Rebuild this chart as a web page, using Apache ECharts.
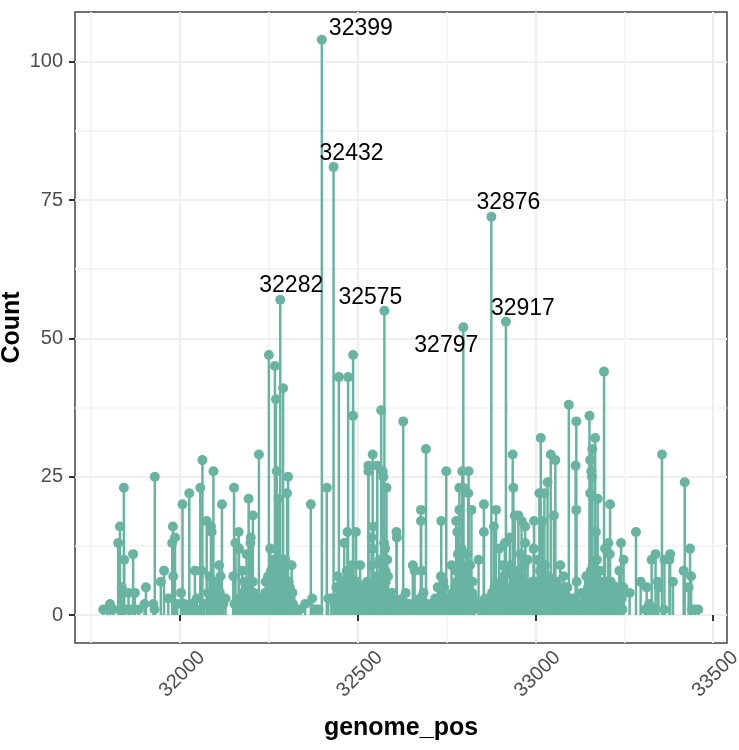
<!DOCTYPE html>
<html><head><meta charset="utf-8">
<style>html,body{margin:0;padding:0;background:#fff}#c{width:739px;height:750px}</style>
<script src="https://cdn.jsdelivr.net/npm/echarts@6/dist/echarts.min.js"></script>
</head><body><div id="c"></div>
<script>
const genomePos = [
31784,31795,31803,31812,31826,31831,31836,31842,31843,31845,
31855,31859,31868,31873,31883,31900,31904,31925,31928,31929,
31946,31955,31967,31978,31980,31981,31986,31992,32003,32007,
32012,32018,32026,32030,32037,32042,32047,32051,32057,32060,
32063,32068,32075,32079,32083,32087,32089,32092,32094,32098,
32103,32107,32112,32114,32118,32122,32128,32150,32152,32153,
32156,32160,32165,32166,32172,32178,32183,32187,32190,32193,
32198,32199,32201,32202,32205,32205,32212,32222,32222,32228,
32236,32240,32241,32246,32250,32254,32258,32262,32264,32267,
32270,32272,32277,32280,32282,32286,32290,32293,32296,32301,
32304,32309,32314,32318,32322,32330,32338,32352,32368,32372,
32380,32390,32399,32413,32417,32426,32432,32437,32444,32447,
32452,32457,32462,32466,32471,32473,32477,32482,32487,32487,
32490,32495,32499,32503,32507,32512,32517,32522,32526,32530,
32530,32533,32539,32542,32542,32544,32548,32552,32555,32558,
32562,32566,32568,32570,32572,32574,32575,32578,32581,32583,
32586,32590,32597,32600,32609,32610,32615,32622,32628,32635,
32640,32645,32655,32660,32665,32672,32678,32678,32680,32685,
32688,32692,32696,32704,32712,32718,32725,32730,32734,32735,
32741,32745,32749,32752,32758,32764,32767,32772,32777,32780,
32786,32786,32790,32794,32797,32797,32800,32804,32808,32811,
32812,32814,32817,32820,32823,32826,32828,32840,32845,32850,
32855,32855,32860,32866,32875,32876,32880,32883,32889,32892,
32898,32903,32908,32914,32917,32922,32928,32932,32936,32938,
32942,32945,32952,32956,32961,32965,32971,32971,32975,32978,
32985,32990,32995,32996,33000,33007,33011,33015,33018,33021,
33025,33027,33030,33034,33038,33043,33047,33052,33056,33060,
33065,33070,33075,33079,33084,33090,33094,33098,33103,33113,
33115,33115,33116,33120,33125,33130,33135,33143,33148,33152,
33154,33154,33157,33159,33160,33163,33168,33170,33173,33175,
33180,33185,33190,33193,33196,33200,33205,33209,33210,33215,
33220,33229,33236,33241,33245,33248,33265,33283,33296,33309,
33313,33320,33327,33333,33338,33344,33346,33356,33362,33363,
33377,33379,33387,33417,33420,33431,33435,33438,33440,33449,
33458];
const counts = [
1,1,2,1,13,16,5,23,10,1,
4,1,11,4,1,2,5,2,1,25,
6,8,3,13,16,7,14,2,4,20,
2,1,22,2,1,8,3,1,23,8,
28,2,17,4,7,16,15,2,26,5,
1,3,4,7,20,2,3,7,23,2,
13,1,15,12,1,4,2,11,5,21,
13,14,1,3,18,6,1,29,3,1,
1,4,6,2,47,12,5,10,2,45,
39,26,21,6,57,10,41,3,10,22,
25,5,9,2,1,1,1,2,20,3,
1,1,104,23,3,3,81,3,7,43,
5,2,13,1,15,43,7,3,36,47,
5,15,2,1,9,3,1,2,6,27,
26,3,14,29,12,16,6,2,27,4,
10,37,1,26,25,13,55,8,23,10,
3,1,4,2,15,14,1,2,35,4,
1,2,9,8,1,2,19,17,8,4,
1,30,2,1,1,3,5,1,7,17,
6,2,26,1,3,9,4,2,17,15,
23,19,4,26,52,23,1,8,3,22,
26,6,2,19,6,2,1,10,1,1,
20,15,2,1,3,72,1,16,19,4,
12,1,9,13,53,2,14,5,29,23,
18,3,18,7,17,2,16,13,1,10,
4,2,12,17,1,10,22,32,3,17,
22,9,2,24,1,29,4,18,28,6,
3,9,2,7,5,5,38,1,3,27,
35,19,6,2,1,4,1,7,5,36,
28,22,26,25,30,3,32,15,10,21,
5,6,2,44,12,6,13,11,20,4,
1,5,8,13,1,10,4,15,6,1,
5,2,10,1,11,6,5,29,1,10,
10,11,6,8,24,5,12,7,1,1,
1];
const densePos = [
32100,32105,32110,32116,32168,32175,32181,32195,32208,32215,
32225,32232,32238,32244,32248,32252,32256,32260,32266,32269,
32274,32276,32279,32284,32288,32292,32295,32298,32300,32306,
32311,32316,32435,32440,32450,32455,32460,32464,32469,32475,
32480,32484,32492,32497,32501,32506,32510,32515,32520,32524,
32528,32536,32540,32546,32550,32554,32556,32560,32564,32571,
32573,32577,32579,32582,32585,32588,32593,32598,32604,32618,
32626,32631,32637,32650,32668,32675,32683,32700,32708,32715,
32722,32727,32732,32738,32743,32747,32755,32761,32769,32774,
32776,32778,32782,32784,32788,32792,32795,32799,32802,32806,
32810,32813,32816,32819,32822,32825,32848,32858,32863,32870,
32878,32885,32887,32895,32900,32905,32910,32912,32920,32925,
32930,32934,32940,32948,32950,32954,32958,32963,32967,32969,
32973,32980,32988,32992,32998,33003,33005,33009,33013,33017,
33019,33023,33028,33032,33036,33040,33045,33050,33054,33058,
33062,33067,33072,33077,33081,33087,33092,33101,33107,33110,
33118,33128,33133,33138,33141,33146,33150,33156,33158,33161,
33165,33167,33171,33177,33182,33187,33195,33198,33202,33207,
33212,33217,33223,33226,33232,33238,33243,33247];
const denseCounts = [
2,6,9,3,3,8,6,3,4,2,
2,3,2,4,7,3,8,3,6,9,
4,8,3,7,4,8,5,9,3,6,
3,4,2,5,3,6,4,5,8,4,
6,9,4,6,3,4,5,2,3,4,
3,5,9,3,5,7,3,6,4,9,
5,12,6,4,7,3,2,2,3,2,
3,2,2,1,2,3,2,1,2,2,
2,3,2,4,5,3,2,2,3,5,
8,6,11,8,6,12,9,7,5,11,
6,4,9,3,4,3,2,3,2,3,
4,5,2,5,3,6,4,7,8,3,
9,4,6,3,8,5,11,6,4,9,
5,4,3,6,5,3,6,5,8,6,
4,5,4,6,7,3,5,6,4,3,
5,4,3,4,3,2,3,2,2,3,
1,2,2,3,2,3,6,8,5,9,
7,4,5,3,8,4,3,5,2,4,
6,3,2,5,3,2,3,5];
const labelNames = ['32399','32432','32876','32282','32575','32917','32797'];
const labelPos = [32399,32432,32876,32282,32575,32917,32797];
const labelCounts = [104,81,72,57,55,53,52];
const xTicks = [32000,32500,33000,33500];
const xMinor = [31750,32250,32750,33250];
const yTicks = [0,25,50,75,100];
const yMinor = [12.5,37.5,62.5,87.5];

const labelOffsets = [[39,-11],[18,-13],[17,-14],[11,-14],[-14,-13],[17,-13],[-17,18]];
const pts = genomePos.map((x,i)=>[x,counts[i]]).concat(densePos.map((x,i)=>[x,denseCounts[i]]));
const color = '#69b3a2', font = 'Liberation Sans, Arial, sans-serif';
const xMin = 31704.5, xMax = 33539, yMin = -5.06, yMax = 109;
const hidden = {axisLine:{show:false},axisLabel:{show:false}};

const chart = echarts.init(document.getElementById('c'),null,{renderer:'canvas'});
chart.setOption({
  animation:false,
  backgroundColor:'#fff',
  grid:{left:75,right:12,top:12,bottom:107,show:true,borderColor:'#444',borderWidth:1.5,backgroundColor:'#fff',outerBoundsMode:'none'},
  xAxis:[{
    type:'value',min:xMin,max:xMax,position:'bottom',
    name:'genome_pos',nameLocation:'middle',nameGap:73,nameMoveOverlap:false,
    nameTextStyle:{fontFamily:font,fontWeight:'bold',fontSize:25,color:'#000'},
    axisLine:{show:false},
    axisTick:{show:true,length:6,customValues:xTicks,lineStyle:{color:'#333',width:2}},
    axisLabel:{customValues:xTicks,formatter:v=>String(v),rotate:45,margin:29,lineHeight:6,align:'center',verticalAlign:'top',fontFamily:font,fontSize:20,color:'#4d4d4d'},
    splitLine:{show:true,lineStyle:{color:'#eeeeee',width:2}}
  },{
    type:'value',min:xMin,max:xMax,position:'top',...hidden,
    axisTick:{show:false,customValues:xMinor},
    splitLine:{show:true,lineStyle:{color:'#f2f2f2',width:1.5}}
  }],
  yAxis:[{
    type:'value',min:yMin,max:yMax,position:'left',
    name:'Count',nameLocation:'middle',nameGap:50,nameMoveOverlap:false,
    nameTextStyle:{fontFamily:font,fontWeight:'bold',fontSize:25,color:'#000'},
    axisLine:{show:false},
    axisTick:{show:true,length:6,customValues:yTicks,lineStyle:{color:'#333',width:2}},
    axisLabel:{customValues:yTicks,margin:12,fontFamily:font,fontSize:20,color:'#4d4d4d'},
    splitLine:{show:true,lineStyle:{color:'#eeeeee',width:2}}
  },{
    type:'value',min:yMin,max:yMax,position:'right',...hidden,
    axisTick:{show:false,customValues:yMinor},
    splitLine:{show:true,lineStyle:{color:'#f2f2f2',width:1.5}}
  }],
  series:[{
    type:'bar',data:pts,barWidth:2.5,itemStyle:{color:color},silent:true,z:2
  },{
    type:'scatter',data:pts,symbol:'circle',symbolSize:10,itemStyle:{color:color,opacity:1},silent:true,z:3
  },{
    type:'scatter',symbolSize:0,silent:true,z:5,itemStyle:{opacity:1},
    data:labelPos.map((x,i)=>({
      value:[x,labelCounts[i]],
      label:{show:true,position:'inside',formatter:labelNames[i],offset:labelOffsets[i],
        fontFamily:font,fontSize:23,color:'#000',align:'center',verticalAlign:'middle'}
    }))
  }]
});
</script></body></html>
